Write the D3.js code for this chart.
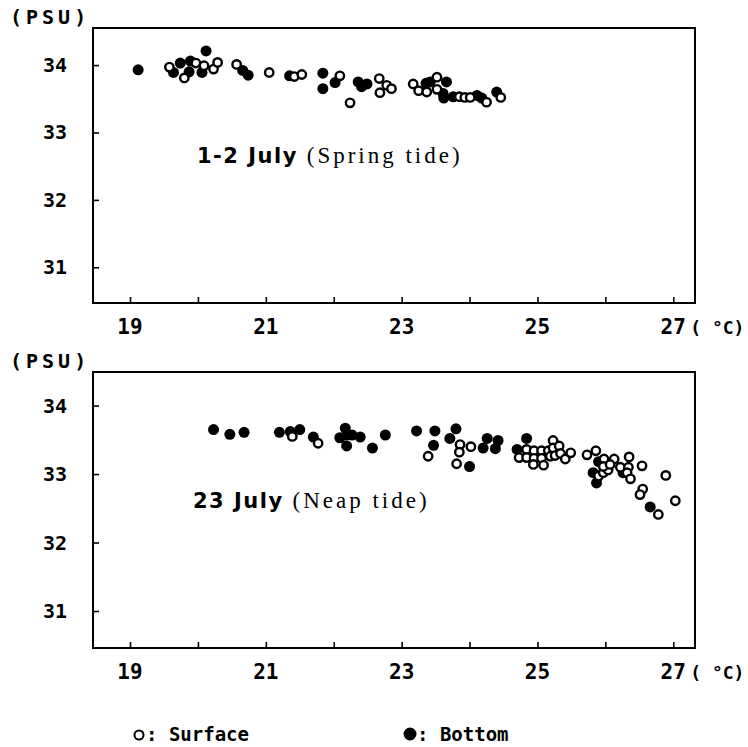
<!DOCTYPE html>
<html>
<head>
<meta charset="utf-8">
<script src="https://cdn.jsdelivr.net/npm/d3@7"></script>
<style>
	body { margin: 0; background: #fff; }
	svg { display: block; }
</style>
</head>
<body>
<div id="chart"></div>
<script>
// 温度 (°C) / 盐度 (PSU) 读数
const springSurface = [
	[19.58, 33.97], [19.80, 33.81], [19.97, 34.03], [20.09, 33.99], [20.23, 33.94], [20.29, 34.04],
	[20.57, 34.01], [21.05, 33.89], [21.42, 33.83], [21.53, 33.86], [22.09, 33.84], [22.24, 33.44],
	[22.67, 33.80], [22.68, 33.59], [22.78, 33.70], [22.85, 33.65], [23.17, 33.72], [23.25, 33.62],
	[23.37, 33.60], [23.52, 33.82], [23.52, 33.64], [23.85, 33.53], [23.93, 33.52], [24.01, 33.52],
	[24.25, 33.45], [24.46, 33.52]
];
const springBottom = [
	[19.12, 33.93], [19.64, 33.89], [19.74, 34.03], [19.87, 33.90], [19.89, 34.06], [20.12, 34.21],
	[20.06, 33.89], [20.66, 33.92], [20.74, 33.85], [21.35, 33.84], [21.84, 33.88], [21.84, 33.65],
	[22.02, 33.74], [22.36, 33.75], [22.41, 33.68], [22.49, 33.72], [23.36, 33.73], [23.42, 33.75],
	[23.66, 33.75], [23.61, 33.58], [23.62, 33.51], [23.76, 33.53], [24.11, 33.55], [24.18, 33.51],
	[24.40, 33.60]
];
const neapSurface = [
	[21.39, 33.55], [21.77, 33.45], [23.39, 33.26], [23.86, 33.43], [23.85, 33.32], [24.02, 33.40],
	[23.81, 33.15], [24.73, 33.24], [24.84, 33.36], [24.84, 33.24], [24.95, 33.34], [24.95, 33.23],
	[25.06, 33.34], [25.06, 33.23], [24.94, 33.14], [25.09, 33.13], [25.16, 33.34], [25.23, 33.49],
	[25.23, 33.38], [25.32, 33.41], [25.19, 33.26], [25.26, 33.27], [25.34, 33.30], [25.41, 33.22],
	[25.49, 33.31], [25.73, 33.28], [25.86, 33.34], [25.98, 33.22], [26.13, 33.22], [26.35, 33.25],
	[25.90, 32.97], [25.97, 33.02], [26.04, 33.06], [25.97, 33.11], [26.07, 33.14], [26.22, 33.10],
	[26.34, 33.10], [26.32, 33.02], [26.37, 32.93], [26.54, 33.12], [26.89, 32.98], [26.55, 32.78],
	[26.51, 32.70], [27.03, 32.61], [26.78, 32.41]
];
const neapBottom = [
	[20.23, 33.65], [20.47, 33.58], [20.68, 33.61], [21.20, 33.61], [21.36, 33.62], [21.50, 33.65],
	[21.70, 33.54], [22.17, 33.67], [22.09, 33.53], [22.19, 33.57], [22.27, 33.57], [22.19, 33.41],
	[22.39, 33.54], [22.57, 33.38], [22.76, 33.57], [23.22, 33.63], [23.49, 33.63], [23.47, 33.42],
	[23.80, 33.66], [23.71, 33.52], [24.00, 33.11], [24.26, 33.52], [24.20, 33.38], [24.42, 33.49],
	[24.38, 33.37], [24.84, 33.52], [24.70, 33.36], [25.90, 33.18], [25.82, 33.02], [25.87, 32.87],
	[26.26, 33.02], [26.66, 32.52]
];

const xTicks = [19, 20, 21, 22, 23, 24, 25, 26, 27];
const xTickLabels = ["19", "", "21", "", "23", "", "25", "", "27"];
const yTicks = [31, 32, 33, 34];
const panelTitles = ["1-2 July", "23 July"];
const panelTides = ["(Spring tide)", "(Neap tide)"];
const legendLabels = [": Surface", ": Bottom"];

const width = 748;
const height = 747;
const monoFont = "'DejaVu Sans Mono', monospace";
const sansFont = "'DejaVu Sans', sans-serif";
const serifFont = "'Liberation Serif', serif";

const svg = d3.select("#chart")
	.append("svg")
	.attr("width", width)
	.attr("height", height)
	.attr("viewBox", [0, 0, width, height]);

const x = d3.scaleLinear()
	.domain([18.455, 27.32])
	.range([93, 695]);

function drawPanel(opt) {
	const { top, bottom, yDomain, surface, bottomPts, titleIdx, titlePos } = opt;

	const y = d3.scaleLinear()
		.domain(yDomain)
		.range([bottom, top]);

	const g = svg.append("g");

	// 边框
	g.append("rect")
		.attr("x", x.range()[0])
		.attr("y", top)
		.attr("width", x.range()[1] - x.range()[0])
		.attr("height", bottom - top)
		.attr("fill", "none")
		.attr("stroke", "#000")
		.attr("stroke-width", 2);

	// x 轴 (刻度朝内)
	g.append("g")
		.attr("transform", `translate(0,${bottom})`)
		.call(d3.axisTop(x).tickValues(xTicks).tickSize(6).tickFormat(""))
		.call(g => g.select(".domain").remove())
		.call(g => g.selectAll("line").attr("stroke-width", 1.6));

	g.append("g")
		.selectAll("text")
		.data(xTicks)
		.join("text")
		.attr("x", d => x(d))
		.attr("y", bottom + 31)
		.attr("text-anchor", "middle")
		.attr("font-family", monoFont)
		.attr("font-weight", "bold")
		.attr("font-size", 21)
		.text((d, i) => xTickLabels[i]);

	g.append("text")
		.attr("x", x(27) + 17)
		.attr("y", bottom + 31)
		.attr("font-family", monoFont)
		.attr("font-weight", "bold")
		.attr("font-size", 18)
		.attr("xml:space", "preserve")
		.text("( °C)");

	// y 轴
	g.append("g")
		.attr("transform", `translate(${x.range()[0]},0)`)
		.call(d3.axisRight(y).tickValues(yTicks).tickSize(6).tickFormat(""))
		.call(g => g.select(".domain").remove())
		.call(g => g.selectAll("line").attr("stroke-width", 1.6));

	g.append("g")
		.selectAll("text")
		.data(yTicks)
		.join("text")
		.attr("x", 67)
		.attr("y", d => y(d) + 7)
		.attr("text-anchor", "end")
		.attr("font-family", monoFont)
		.attr("font-weight", "bold")
		.attr("font-size", 20)
		.text(d => d);

	g.append("text")
		.attr("x", 10)
		.attr("y", top - 4)
		.attr("font-family", monoFont)
		.attr("font-weight", "bold")
		.attr("font-size", 20)
		.attr("letter-spacing", 4)
		.text("(PSU)");

	// 注释
	const t = g.append("text")
		.attr("x", titlePos[0])
		.attr("y", titlePos[1]);
	t.append("tspan")
		.attr("font-family", sansFont)
		.attr("font-weight", "bold")
		.attr("font-size", 21)
		.attr("letter-spacing", 1.5)
		.text(panelTitles[titleIdx] + " ");
	t.append("tspan")
		.attr("font-family", serifFont)
		.attr("font-size", 23)
		.attr("letter-spacing", 3)
		.text(panelTides[titleIdx]);

	// 底层 (实心)
	g.append("g")
		.selectAll("circle")
		.data(bottomPts)
		.join("circle")
		.attr("cx", d => x(d[0]))
		.attr("cy", d => y(d[1]))
		.attr("r", 5.5)
		.attr("fill", "#000");

	// 表层 (空心)
	g.append("g")
		.selectAll("circle")
		.data(surface)
		.join("circle")
		.attr("cx", d => x(d[0]))
		.attr("cy", d => y(d[1]))
		.attr("r", 4.2)
		.attr("fill", "#fff")
		.attr("stroke", "#000")
		.attr("stroke-width", 2.4);
}

drawPanel({
	top: 28, bottom: 303, yDomain: [30.47, 34.55],
	surface: springSurface, bottomPts: springBottom,
	titleIdx: 0, titlePos: [197, 163]
});

drawPanel({
	top: 372, bottom: 648, yDomain: [30.46, 34.49],
	surface: neapSurface, bottomPts: neapBottom,
	titleIdx: 1, titlePos: [193, 508]
});

// 图例
const legend = svg.append("g").attr("transform", "translate(0,741)");

legend.append("circle")
	.attr("cx", 139).attr("cy", -6).attr("r", 4.5)
	.attr("fill", "#fff").attr("stroke", "#000").attr("stroke-width", 2);
legend.append("text")
	.attr("x", 146).attr("y", 0)
	.attr("font-family", monoFont).attr("font-weight", "bold").attr("font-size", 19)
	.text(legendLabels[0]);

legend.append("circle")
	.attr("cx", 410).attr("cy", -7).attr("r", 6.5)
	.attr("fill", "#000");
legend.append("text")
	.attr("x", 417).attr("y", 0)
	.attr("font-family", monoFont).attr("font-weight", "bold").attr("font-size", 19)
	.text(legendLabels[1]);
</script>
</body>
</html>
